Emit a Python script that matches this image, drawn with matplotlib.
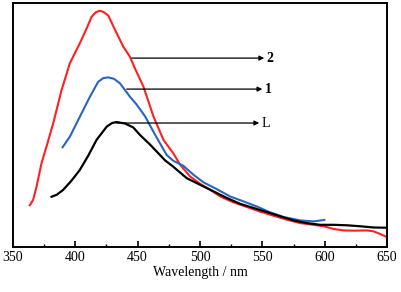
import matplotlib
matplotlib.use("Agg")
import matplotlib.pyplot as plt
from matplotlib.ticker import MultipleLocator

plt.rcParams['font.family'] = ['Liberation Serif', 'DejaVu Serif']

# emission spectra (arbitrary intensity units)
red_x = [363.6, 366.3, 369.0, 373.0, 377.0, 382.4, 389.1, 395.7, 403.7, 409.1, 413.1, 416.5,
         419.8, 423.0, 426.5, 433.2, 438.6, 443.8, 448.0, 454.6, 462.7, 470.7, 478.6, 484.1,
         492.1, 500.1, 508.1, 516.2, 526.9, 537.6, 548.3, 559.0, 569.7, 580.4, 591.1, 599.2,
         607.2, 615.2, 623.2, 633.9, 639.3, 644.7, 650.0]
red_y = [17.1, 19.4, 24.8, 34.4, 41.2, 50.8, 64.4, 75.3, 83.5, 89.5, 94.3, 96.2,
         96.8, 96.2, 94.8, 87.6, 82.0, 78.0, 73.0, 65.8, 53.5, 43.9, 38.4, 33.7,
         28.9, 25.9, 23.5, 20.7, 18.3, 16.4, 14.5, 12.8, 11.2, 9.8, 9.1, 8.5,
         7.4, 6.8, 6.7, 6.8, 6.4, 5.3, 4.0]

blue_x = [389.9, 395.8, 403.8, 411.8, 418.4, 422.5, 426.5, 431.0, 435.8, 443.8, 449.0, 455.9,
          464.0, 473.3, 478.7, 486.6, 494.8, 502.8, 513.5, 524.2, 534.9, 545.6, 556.3, 567.0,
          580.4, 591.1, 599.7]
blue_y = [40.9, 45.3, 53.5, 61.6, 67.7, 69.2, 69.5, 68.9, 67.1, 61.6, 58.5, 53.6,
          46.0, 37.7, 35.3, 33.3, 29.6, 26.5, 23.7, 20.7, 18.7, 16.6, 14.2, 12.3,
          10.9, 10.5, 11.1]

black_x = [381.0, 385.1, 390.3, 397.0, 403.7, 410.5, 417.1, 425.2, 429.5, 433.2, 439.9, 446.5,
           451.9, 459.9, 465.3, 472.0, 478.6, 489.4, 500.1, 510.8, 521.5, 532.2, 542.9, 553.6,
           564.3, 575.0, 585.7, 596.4, 607.2, 617.9, 628.6, 639.3, 650.0]
black_y = [20.6, 21.4, 23.4, 27.2, 31.6, 37.5, 43.9, 49.3, 50.8, 51.2, 50.6, 49.0,
           45.9, 42.0, 39.1, 35.5, 32.9, 28.2, 25.5, 22.8, 20.1, 17.7, 16.0, 14.3,
           12.6, 10.9, 9.8, 9.1, 9.1, 8.9, 8.5, 8.0, 7.9]

# curve labels: (text, arrow start x, arrow end x, y, bold)
labels = [("2", 445.3, 551.5, 77.4, True),
          ("1", 441.3, 550.0, 64.7, True),
          ("L", 433.2, 547.5, 50.8, False)]

fig = plt.figure(figsize=(4.02, 2.92), dpi=100)
ax = fig.add_axes([0.032, 0.154, 0.931, 0.836])

ax.plot(red_x, red_y, color='#ff2020', lw=1.5)
ax.plot(blue_x, blue_y, color='#2a64c0', lw=1.5)
ax.plot(black_x, black_y, color='black', lw=1.6)

for txt, x0, x1, y, bold in labels:
    ax.annotate("", xy=(x1, y), xytext=(x0, y),
                arrowprops=dict(arrowstyle='-|>', color='black', lw=0.9,
                                mutation_scale=7, shrinkA=0, shrinkB=0))
    ax.text(x1 + 2, y, txt, ha='left', va='center', fontsize=10,
            fontweight='bold' if bold else 'normal')

ax.set_xlim(350, 650)
ax.set_ylim(0, 100)
ax.xaxis.set_major_locator(MultipleLocator(50))
ax.xaxis.set_minor_locator(MultipleLocator(25))
ax.set_yticks([])
ax.tick_params(axis='x', which='major', direction='in', length=4, width=1.2, labelsize=10, pad=3)
ax.tick_params(axis='x', which='minor', direction='in', length=2.5, width=1.0)
for s in ax.spines.values():
    s.set_linewidth(1.4)
ax.set_xlabel("Wavelength / nm", fontsize=10, labelpad=1)

fig.savefig("out.png", dpi=100)
